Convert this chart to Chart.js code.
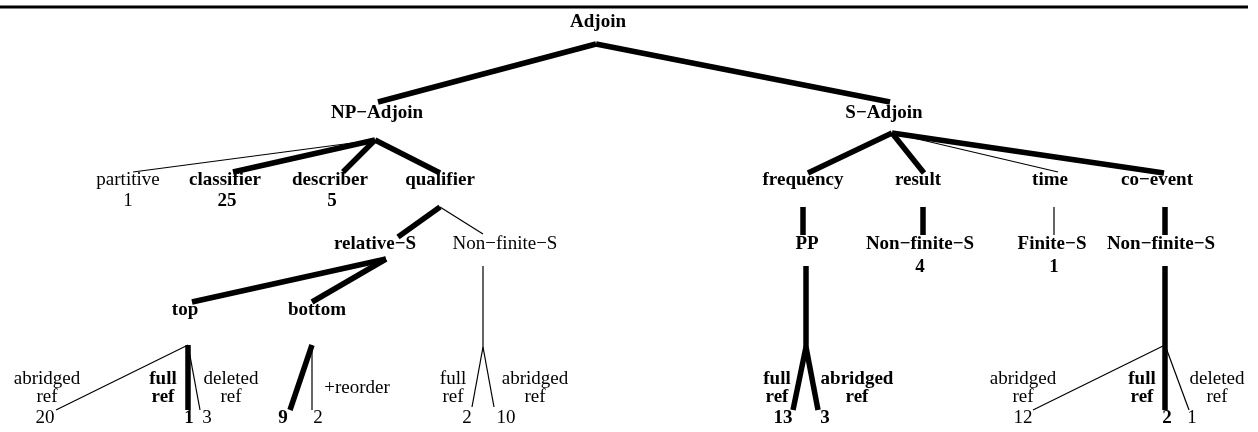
<!DOCTYPE html>
<html>
<head>
<meta charset="utf-8">
<script src="https://cdn.jsdelivr.net/npm/chart.js@4.4.0/dist/chart.umd.min.js"></script>
<style>
  body { margin: 0; background: #fff; }
  #tree { display: block; }
</style>
</head>
<body>
<canvas id="tree" width="1258" height="432"></canvas>
<script>
// tree content: one entry per node
const nodeLabels = ['Adjoin', 'NP\u2212Adjoin', 'S\u2212Adjoin',
  'partitive', 'classifier', 'describer', 'qualifier',
  'frequency', 'result', 'time', 'co\u2212event',
  'relative\u2212S', 'Non\u2212finite\u2212S',
  'PP', 'Non\u2212finite\u2212S', 'Finite\u2212S', 'Non\u2212finite\u2212S',
  'top', 'bottom', '', '', '',
  'abridged\nref', 'full\nref', 'deleted\nref', '', '+reorder',
  'full\nref', 'abridged\nref', 'full\nref', 'abridged\nref',
  'abridged\nref', 'full\nref', 'deleted\nref'];
const nodeCounts = [null, null, null,
  1, 25, 5, null,
  null, null, null, null,
  null, null,
  null, 4, 1, null,
  null, null, null, null, null,
  20, 1, 3, 9, 2,
  2, 10, 13, 3,
  12, 2, 1];
const nodeBold = [1, 1, 1,
  0, 1, 1, 1,
  1, 1, 1, 1,
  1, 0,
  1, 1, 1, 1,
  1, 1, 0, 0, 0,
  0, 1, 0, 1, 0,
  0, 0, 1, 1,
  0, 1, 0];
const parentOf = [-1, 0, 0,
  1, 1, 1, 1,
  2, 2, 2, 2,
  6, 6,
  7, 8, 9, 10,
  11, 11, 12, 13, 16,
  17, 17, 17, 18, 18,
  19, 19, 20, 20,
  21, 21, 21];
const thickEdge = [0, 1, 1,
  0, 1, 1, 1,
  1, 1, 0, 1,
  1, 0,
  1, 1, 0, 1,
  1, 1, 0, 1, 1,
  0, 1, 0, 1, 0,
  0, 0, 1, 1,
  0, 1, 0];

// layout (in scale units, same size as the canvas)
const labelX = [598, 377, 884, 128, 225, 330, 440, 803, 918, 1050, 1157,
  375, 505, 807, 920, 1052, 1161, 185, 317, 0, 0, 0,
  47, 163, 231, 0, 357, 453, 535, 777, 857, 1023, 1142, 1217];
const labelY = [22, 113, 113, 180, 180, 180, 180, 180, 180, 180, 180,
  244, 244, 244, 244, 244, 244, 310, 310, 0, 0, 0,
  379, 379, 379, 0, 388, 379, 379, 379, 379, 379, 379, 379];
const countX = [0, 0, 0, 128, 227, 332, 0, 0, 0, 0, 0,
  0, 0, 0, 920, 1054, 0, 0, 0, 0, 0, 0,
  45, 189, 207, 283, 318, 467, 506, 783, 825, 1023, 1167, 1192];
const countY = [0, 0, 0, 201, 201, 201, 0, 0, 0, 0, 0,
  0, 0, 0, 267, 267, 0, 0, 0, 0, 0, 0,
  418, 418, 418, 418, 418, 418, 418, 418, 418, 418, 418, 418];
const inX = [0, 378, 890, 133, 233, 343, 440, 808, 924, 1058, 1164,
  398, 483, 803, 923, 1054, 1165, 192, 312, 483, 806, 1165,
  56, 188, 200, 290, 312, 472, 494, 793, 818, 1033, 1165, 1189];
const inY = [0, 102, 102, 172, 172, 172, 173, 173, 173, 172, 173,
  237, 234, 235, 235, 235, 235, 302, 302, 347, 347, 345,
  410, 410, 410, 410, 410, 407, 407, 410, 410, 410, 410, 410];
const outX = [596, 375, 892, 0, 0, 0, 440, 803, 923, 1054, 1165,
  386, 483, 806, 0, 0, 1165, 188, 312, 483, 806, 1165];
const outY = [44, 140, 133, 0, 0, 0, 207, 207, 207, 207, 207,
  259, 266, 266, 0, 0, 266, 345, 345, 347, 347, 345];
const ruleX = [0, 1248];
const ruleY = [7, 7];

const datasets = [{
  data: [{x: ruleX[0], y: ruleY[0]}, {x: ruleX[1], y: ruleY[1]}],
  borderColor: '#000', borderWidth: 3, pointRadius: 0, showLine: true
}];
for (let i = 1; i < nodeLabels.length; i++) {
  const p = parentOf[i];
  datasets.push({
    data: [{x: outX[p], y: outY[p]}, {x: inX[i], y: inY[i]}],
    borderColor: '#000',
    borderWidth: thickEdge[i] ? 5.5 : 1.2,
    borderCapStyle: 'butt',
    pointRadius: 0,
    showLine: true
  });
}

const serif = '"Liberation Serif", "Times New Roman", serif';
const textPlugin = {
  id: 'nodeText',
  afterDatasetsDraw(chart) {
    const ctx = chart.ctx, xs = chart.scales.x, ys = chart.scales.y;
    ctx.save();
    ctx.fillStyle = '#000';
    ctx.textAlign = 'center';
    ctx.textBaseline = 'middle';
    for (let i = 0; i < nodeLabels.length; i++) {
      ctx.font = (nodeBold[i] ? 'bold ' : '') + '19px ' + serif;
      if (nodeLabels[i]) {
        const lines = nodeLabels[i].split('\n');
        lines.forEach((t, k) => {
          ctx.fillText(t, xs.getPixelForValue(labelX[i]), ys.getPixelForValue(labelY[i] + k * 18));
        });
      }
      if (nodeCounts[i] !== null) {
        ctx.fillText(String(nodeCounts[i]), xs.getPixelForValue(countX[i]), ys.getPixelForValue(countY[i]));
      }
    }
    ctx.restore();
  }
};

new Chart(document.getElementById('tree'), {
  type: 'scatter',
  data: { datasets: datasets },
  options: {
    responsive: false,
    animation: false,
    layout: { padding: 0 },
    plugins: { legend: { display: false }, tooltip: { enabled: false } },
    scales: {
      x: { type: 'linear', min: 0, max: 1258, display: false },
      y: { type: 'linear', min: 0, max: 432, reverse: true, display: false }
    }
  },
  plugins: [textPlugin]
});
</script>
</body>
</html>
